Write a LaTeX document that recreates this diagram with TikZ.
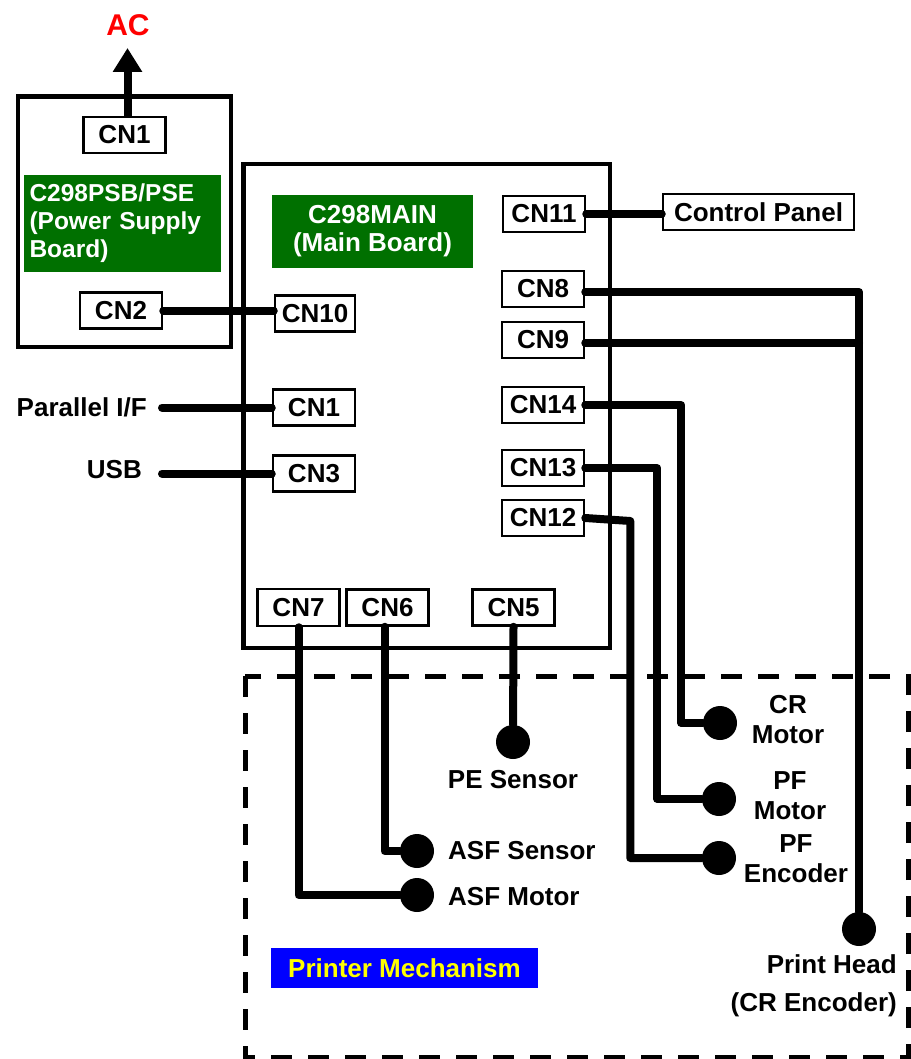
\documentclass[tikz,border=0pt]{standalone}
\usepackage{fontspec}
\setmainfont{Liberation Sans}
\usepackage{tikz}
\usetikzlibrary{arrows.meta,positioning,shapes}
\usepackage{xcolor}

\definecolor{verdeplaca}{RGB}{0,112,0}
\definecolor{azulmec}{RGB}{0,0,255}
\definecolor{amarillo}{RGB}{255,255,0}
\definecolor{rojoac}{RGB}{255,0,0}

\begin{document}
\begin{tikzpicture}[x=1pt, y=-1pt, node distance=50pt, on grid]

    % Estilos
    \tikzstyle{conector}=[rectangle, draw, fill=white, line width=2.5pt, minimum width=82pt, minimum height=36pt, inner sep=0pt, font=\bfseries\fontsize{26}{30}\selectfont]
    \tikzstyle{texto}=[inner sep=0pt, align=center, font=\bfseries\fontsize{26}{30}\selectfont]
    \tikzstyle{etiqueta}=[rectangle, fill=verdeplaca, text=white, inner sep=0pt, font=\bfseries\fontsize{26}{28}\selectfont]
    \tikzstyle{punto}=[circle, fill=black, minimum size=34pt, inner sep=0pt]
    \tikzstyle{cable}=[line width=8pt, line cap=round, line join=round]
    \tikzstyle{borde}=[line width=4.5pt]

    \useasboundingbox (0,0) rectangle (910,1059);

    % Placas y mecanismo
    \draw[borde] (18,96.5) rectangle (231,347);
    \draw[borde] (243.5,164) rectangle (610,648);
    \draw[line width=5pt, dash pattern=on 21pt off 16pt] (245,676) rectangle (908,1057);

    \node[etiqueta, minimum width=197pt, minimum height=97pt, text width=186pt, align=left,
          font=\bfseries\fontsize{24.5}{28}\selectfont] (psb) at (122.5,223.5) {C298PSB/PSE\\(Power Supply\\Board)};
    \node[etiqueta, minimum width=201pt, minimum height=73pt, align=center] (mainb) at (372.5,231.5) {C298MAIN\\(Main Board)};
    \node[rectangle, fill=azulmec, text=amarillo, minimum width=267pt, minimum height=40pt, inner sep=0pt,
          font=\bfseries\fontsize{26}{30}\selectfont] (mec) at (404.5,968) {Printer Mechanism};

    % Conectores
    \node[conector] (cnps1) at (124.5,135) {CN1};
    \node[conector] (cnps2) at (121,310.5) {CN2};
    \node[conector, minimum width=80pt] (cn10) at (315,313.5) {CN10};
    \node[conector] (cn1) at (314,407.5) {CN1};
    \node[conector] (cn3) [below=66pt of cn1] {CN3};
    \node[conector] (cn11) at (544,214) {CN11};
    \node[conector] (cn8) at (543,289) {CN8};
    \node[conector] (cn9) [below=51pt of cn8] {CN9};
    \node[conector] (cn14) [below=65pt of cn9] {CN14};
    \node[conector] (cn13) [below=63pt of cn14] {CN13};
    \node[conector] (cn12) [below=50pt of cn13] {CN12};
    \node[conector, minimum height=37pt] (cn7) at (298.5,607.5) {CN7};
    \node[conector] (cn6) [right=89pt of cn7] {CN6};
    \node[conector] (cn5) [right=126pt of cn6] {CN5};
    \node[conector, minimum width=191pt] (panel) at (758.5,212) {Control Panel};

    % Textos externos
    \node[texto, text=rojoac, font=\bfseries\fontsize{30}{34}\selectfont] (ac) at (128,25) {AC};
    \coordinate (salida) at (127.5,48);
    \node[texto, anchor=east, inner xsep=15pt] (pif) at (162,407) {Parallel I/F};
    \node[texto, anchor=east, inner xsep=20pt] (usb) at (162,470) {USB};

    % Componentes del mecanismo
    \node[punto] (pe) at (513,742) {};
    \node[punto] (asfs) at (417,851) {};
    \node[punto] (asfm) at (417,895) {};
    \node[punto] (crm) at (720,723) {};
    \node[punto] (pfm) at (719,799) {};
    \node[punto] (pfe) at (719,858) {};
    \node[punto] (head) at (859,929) {};

    \node[texto] (petxt) [below=38pt of pe] {PE Sensor};
    \node[texto, anchor=west] (asfstxt) at (448,851) {ASF Sensor};
    \node[texto, anchor=west] (asfmtxt) at (448,897) {ASF Motor};
    \node[texto] (crmtxt) at (788,720) {CR\\Motor};
    \node[texto] (pfmtxt) at (790,796) {PF\\Motor};
    \node[texto] (pfetxt) at (796,859) {PF\\Encoder};
    \node[texto, align=right, anchor=east, font=\bfseries\fontsize{26}{38}\selectfont] (headtxt) at (897,986) {Print Head\\(CR Encoder)};

    % Cables
    \draw[cable, line cap=butt, -{Triangle[length=24pt, width=28pt]}] (salida |- cnps1.north) -- (salida);
    \draw[cable] (cnps2.east) -- (cnps2.east -| cn10.west);
    \draw[cable] (pif.east |- cn1) -- (cn1.west);
    \draw[cable] (usb.east |- cn3) -- (cn3.west);
    \draw[cable] (cn11.east) -- (cn11.east -| panel.west);
    \draw[cable] ([yshift=-3pt]cn8.east) -| (head);
    \draw[cable] ([yshift=-3pt]cn9.east) -- ([yshift=-3pt]cn9.east -| head);
    \draw[cable] (cn14.east) -- ++(96,0) |- (crm);
    \draw[cable] (cn13.east) -- ++(72,0) |- (pfm);
    \draw[cable] (cn12.east) -- ++(45,3) |- (pfe);
    \draw[cable] (cn7.south) |- (asfm);
    \draw[cable] ([xshift=-3pt]cn6.south) |- (asfs);
    \draw[cable] (cn5.south) -- (pe);
\end{tikzpicture}
\end{document}
